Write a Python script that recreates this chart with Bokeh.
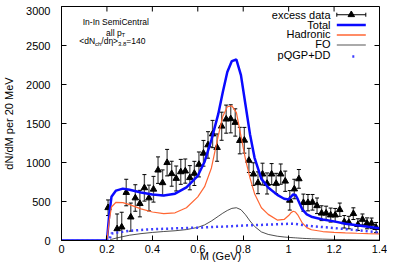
from bokeh.plotting import figure
from bokeh.layouts import column
from bokeh.models import (ColumnDataSource, Whisker, TeeHead, Label, Arrow,
                          FixedTicker, Range1d, Spacer)
from bokeh.embed import file_html
from bokeh.resources import INLINE

# ---------------- data ----------------
mass_data = [0.205, 0.245, 0.265, 0.285, 0.305, 0.325, 0.345, 0.365, 0.385,
             0.405, 0.425, 0.445, 0.465, 0.485, 0.505, 0.525, 0.545, 0.565, 0.585,
             0.605, 0.625, 0.645, 0.665, 0.685, 0.705, 0.725, 0.745, 0.765, 0.785,
             0.805, 0.825, 0.845, 0.865, 0.885, 0.905, 0.925, 0.945, 0.965, 0.985,
             1.005, 1.025, 1.045, 1.065, 1.085, 1.105, 1.125, 1.145, 1.165, 1.185,
             1.205, 1.225, 1.245, 1.265, 1.285, 1.305, 1.325, 1.345, 1.365, 1.385]
excess = [420, 150, 172, 615, 300, 545, 473, 675, 545,
          657, 902, 740, 998, 856, 795, 880, 890, 805, 860,
          975, 1118, 1225, 1365, 1191, 1465, 1556, 1560, 1513, 1281,
          1285, 1027, 851, 740, 851, 731, 851, 731, 851, 760,
          515, 660, 790, 485, 485, 490, 445, 350, 350, 326,
          326, 395, 240, 230, 344, 204, 270, 220, 220, 166]
excess_err = [100, 190, 190, 170, 180, 170, 170, 170, 165,
              165, 170, 165, 170, 160, 160, 160, 155, 155, 155,
              160, 165, 170, 175, 175, 180, 180, 180, 175, 170,
              165, 155, 145, 140, 140, 135, 135, 130, 130, 130,
              125, 125, 120, 110, 105, 100, 100, 95, 90, 90,
              85, 85, 80, 80, 75, 75, 70, 70, 68, 65]

m_curve = [0.00, 0.20, 0.21, 0.22, 0.24, 0.27, 0.30, 0.35, 0.40, 0.45, 0.50,
           0.55, 0.60, 0.63, 0.66, 0.69, 0.71, 0.73, 0.75, 0.77, 0.79, 0.81,
           0.83, 0.85, 0.88, 0.91, 0.95, 0.98, 1.00, 1.01, 1.02, 1.03, 1.04,
           1.06, 1.08, 1.10, 1.15, 1.20, 1.25, 1.30, 1.35, 1.40]
total = [0, 0, 330, 560, 640, 665, 650, 615, 590, 578, 600,
         680, 830, 1010, 1290, 1620, 1900, 2160, 2300, 2320, 2120, 1740,
         1360, 1060, 790, 680, 585, 535, 525, 560, 590, 585, 530,
         400, 335, 305, 270, 245, 215, 195, 175, 158]
hadronic = [0, 0, 250, 430, 490, 485, 460, 405, 365, 345, 355,
            420, 560, 690, 930, 1340, 1590, 1715, 1725, 1640, 1340, 1040,
            800, 600, 420, 335, 262, 270, 320, 355, 375, 365, 330,
            225, 165, 138, 115, 105, 98, 93, 89, 86]
fo = [0, 0, 0, 15, 30, 50, 68, 88, 103, 115, 125,
      140, 168, 200, 250, 310, 350, 385, 412, 420, 395, 330,
      250, 180, 110, 78, 55, 45, 40, 38, 36, 34, 32,
      28, 25, 22, 18, 14, 12, 9, 7, 6]
qgp_dd = [0, 0, 0, 90, 100, 112, 125, 135, 145, 150, 155,
          160, 165, 168, 172, 176, 178, 181, 184, 187, 190, 193,
          195, 197, 200, 204, 208, 212, 214, 215, 214, 212, 208,
          200, 192, 185, 172, 160, 146, 132, 118, 105]

x_ticks = [0, 0.2, 0.4, 0.6, 0.8, 1.0, 1.2, 1.4]
x_tick_labels = ["0", "0.2", "0.4", "0.6", "0.8", "1", "1.2", "1.4"]
y_ticks = [0, 500, 1000, 1500, 2000, 2500, 3000]

legend_labels = ["excess data", "Total", "Hadronic", "FO", "pQGP+DD"]

FONT = "Liberation Sans"
C_TOTAL = "#0a0aff"
C_HAD = "#ff6633"
C_FO = "#222222"
C_QGP = "#3d3dff"

X0, X1 = 0, 1.4
Y0, Y1 = 0, 3000
FW, FH_EST = 318, 227  # frame size in px (height estimated, for legend samples)
TOP_GAP = 6

# ---------------- figure ----------------
p = figure(title=None, frame_width=FW, height=264 - TOP_GAP, output_backend="svg",
           toolbar_location=None,
           x_range=Range1d(X0, X1), y_range=Range1d(Y0, Y1),
           min_border_left=56, min_border_right=8, min_border_top=0,
           min_border_bottom=24)
p.grid.visible = False
p.outline_line_color = "black"
p.outline_line_width = 1
p.background_fill_color = "white"
p.border_fill_color = "white"

p.xaxis.ticker = FixedTicker(ticks=x_ticks)
p.xaxis.major_label_overrides = {t: l for t, l in zip(x_ticks, x_tick_labels)}
p.yaxis.ticker = FixedTicker(ticks=y_ticks)
p.xaxis.axis_label = "M (GeV)"
p.yaxis.axis_label = "dN/dM per 20 MeV"
for ax in (p.xaxis[0], p.yaxis[0]):
    ax.major_tick_in = 5
    ax.major_tick_out = 0
    ax.minor_tick_line_color = None
    ax.axis_line_color = "black"
    ax.major_label_text_font = FONT
    ax.major_label_text_font_size = "11px"
    ax.major_label_text_color = "black"
    ax.axis_label_text_font = FONT
    ax.axis_label_text_font_size = "11px"
    ax.axis_label_text_font_style = "normal"
    ax.axis_label_text_color = "black"
p.xaxis.major_label_standoff = 4
p.xaxis.axis_label_standoff = -6
p.yaxis.major_label_standoff = 11
p.yaxis.axis_label_standoff = 8

# mirrored ticks on the top and right edges (short rays pointing inward)
p.ray(x=x_ticks, y=[Y1] * len(x_ticks), length=5, length_units="screen",
      angle=-90, angle_units="deg", line_color="black", line_width=1)
p.ray(x=[X1] * len(y_ticks), y=y_ticks, length=5, length_units="screen",
      angle=180, angle_units="deg", line_color="black", line_width=1)

# ---------------- data points ----------------
src = ColumnDataSource(dict(
    x=mass_data, y=excess,
    upper=[v + e for v, e in zip(excess, excess_err)],
    lower=[v - e for v, e in zip(excess, excess_err)]))
p.add_layout(Whisker(source=src, base="x", upper="upper", lower="lower",
                     line_color="#555555", line_width=1.3,
                     upper_head=TeeHead(size=4, line_color="black", line_width=1),
                     lower_head=TeeHead(size=4, line_color="black", line_width=1)))
p.scatter("x", "y", source=src, marker="triangle", size=6.5,
          fill_color="black", line_color="black")

# ---------------- model curves ----------------
p.line(m_curve, total, line_color=C_TOTAL, line_width=2.5)
p.line(m_curve, hadronic, line_color=C_HAD, line_width=1.2)
p.line(m_curve, fo, line_color=C_FO, line_width=0.8)
p.line(m_curve, qgp_dd, line_color=C_QGP, line_width=2.5, line_dash="2 3")


# ---------------- texts, hung from the top edge of the y range ----------------
def lab_t(x, y_top, text, size="8.5px", align="left"):
    p.add_layout(Label(x=x, y=Y1, x_units="screen", y_units="data",
                       y_offset=-y_top,
                       text=text, text_font=FONT, text_font_size=size,
                       text_align=align, text_baseline="middle",
                       text_color="black"))


lab_t(54.3, 15, "In-In SemiCentral", align="center")
lab_t(44.6, 26, "all p")
lab_t(60.0, 28.5, "T", size="6px")
lab_t(17.7, 34.5, "<dN")
lab_t(33.4, 37, "ch", size="6px")
lab_t(39.8, 34.5, "/dη>")
lab_t(56.5, 37, "3.8", size="6px")
lab_t(64.8, 34.5, "=140")

# ---------------- legend (gnuplot style: text, then sample) ----------------
rows = [8, 18, 27.7, 37.3, 48.5]
sx0, sx1 = 275.3, 304.3
for name, r in zip(legend_labels, rows):
    lab_t(269, r, name, size="11px", align="right")


def px_x(px):
    return X0 + px / FW * (X1 - X0)


def px_y(px_from_top):
    return Y1 - px_from_top / FH_EST * (Y1 - Y0)


yy = px_y(rows[0])
p.add_layout(Arrow(x_start=px_x(sx0), y_start=yy, x_end=px_x(sx1), y_end=yy,
                   line_color="black", line_width=1,
                   start=TeeHead(size=4, line_color="black", line_width=1),
                   end=TeeHead(size=4, line_color="black", line_width=1)))
tx = (sx0 + sx1) / 2
p.scatter([px_x(tx)], [yy], marker="triangle", size=6.5,
          fill_color="black", line_color="black")
styles = [(C_TOTAL, 2.5, "solid"), (C_HAD, 1.5, "solid"),
          ("#aaaaaa", 2, "solid"), (C_QGP, 2.5, "dot")]
for (c, w, d), r in zip(styles, rows[1:]):
    y_ = px_y(r)
    if d == "dot":
        p.add_layout(Arrow(x_start=px_x(tx + 1), y_start=y_, x_end=px_x(tx + 3),
                           y_end=y_, line_color=c, line_width=w, end=None))
    else:
        p.add_layout(Arrow(x_start=px_x(sx0), y_start=y_, x_end=px_x(sx1),
                           y_end=y_, line_color=c, line_width=w, end=None))

page = column(Spacer(height=TOP_GAP), p)
open("out.html", "w").write(file_html(page, INLINE))
